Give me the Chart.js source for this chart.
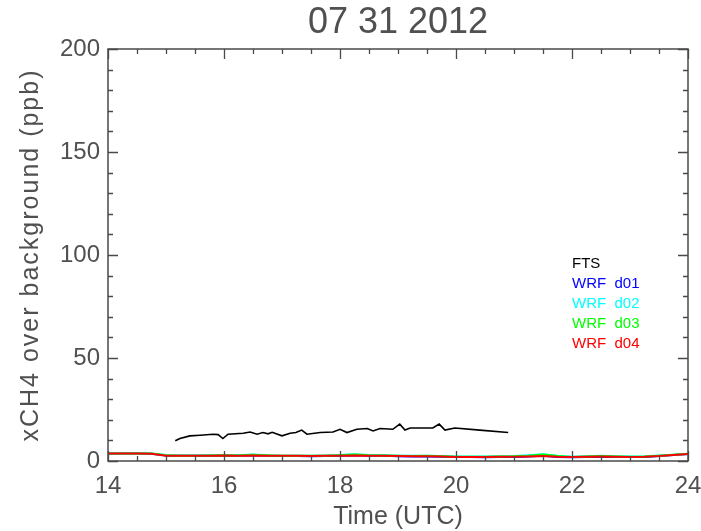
<!DOCTYPE html>
<html>
<head>
<meta charset="utf-8">
<script src="https://cdn.jsdelivr.net/npm/chart.js@4.4.1/dist/chart.umd.min.js"></script>
<style>
  html, body { margin: 0; padding: 0; background: #fff; }
  #wrap { width: 701px; height: 531px; }
</style>
</head>
<body>
<div id="wrap"><canvas id="chart-1"></canvas></div>
<script>
const chart1 = document.querySelector('#chart-1');

const titleText = '07 31 2012';
const xTitle = 'Time (UTC)';
const yTitle = 'xCH4 over background (ppb)';

const xTicks = [14, 16, 18, 20, 22, 24];
const yTicks = [0, 50, 100, 150, 200];

// FTS retrievals
const ftsTimes = [15.16, 15.24, 15.41, 15.59, 15.81, 15.90, 15.98, 16.07, 16.33, 16.45,
  16.57, 16.67, 16.76, 16.83, 17.00, 17.14, 17.24, 17.34, 17.43, 17.66,
  17.88, 18.00, 18.12, 18.29, 18.47, 18.57, 18.69, 18.91, 19.03, 19.12,
  19.21, 19.60, 19.71, 19.81, 19.98, 20.41, 20.90];
const ftsValues = [9.8, 10.9, 12.2, 12.5, 13.0, 12.8, 10.9, 13.0, 13.5, 14.1,
  13.0, 13.8, 13.2, 13.9, 12.2, 13.5, 13.8, 15.0, 13.0, 13.8,
  14.1, 15.4, 13.8, 15.4, 15.8, 14.6, 15.8, 15.4, 17.9, 15.0,
  16.0, 16.0, 17.9, 15.0, 16.0, 15.0, 13.8];

// WRF model output, 15 min
const modelTimes = [14, 14.25, 14.5, 14.75, 15, 15.25, 15.5, 15.75, 16, 16.25,
  16.5, 16.75, 17, 17.25, 17.5, 17.75, 18, 18.25, 18.5, 18.75,
  19, 19.25, 19.5, 19.75, 20, 20.25, 20.5, 20.75, 21, 21.25,
  21.5, 21.75, 22, 22.25, 22.5, 22.75, 23, 23.25, 23.5, 23.75, 24];
const wrfD01 = [3.5, 3.6, 3.6, 3.5, 2.7, 2.5, 2.5, 2.6, 2.6, 2.5,
  2.8, 2.5, 2.4, 2.4, 2.3, 2.4, 2.5, 2.8, 2.6, 2.5,
  2.3, 2.2, 2.2, 2.1, 1.9, 1.9, 1.8, 1.9, 2.0, 2.2,
  2.6, 2.0, 1.8, 2.0, 2.1, 2.0, 1.9, 2.0, 2.4, 2.9, 3.4];
const wrfD02 = [3.6, 3.7, 3.7, 3.6, 2.9, 2.7, 2.7, 2.8, 2.9, 2.8,
  3.2, 2.8, 2.6, 2.6, 2.6, 2.7, 2.9, 3.3, 2.9, 2.8,
  2.6, 2.5, 2.6, 2.4, 2.2, 2.2, 2.2, 2.3, 2.4, 2.8,
  3.3, 2.5, 2.1, 2.3, 2.5, 2.3, 2.2, 2.3, 2.7, 3.0, 3.4];
const wrfD03 = [3.7, 3.7, 3.7, 3.6, 2.8, 2.6, 2.6, 2.7, 2.8, 2.7,
  3.0, 2.7, 2.5, 2.6, 2.5, 2.6, 2.8, 3.1, 2.8, 2.7,
  2.5, 2.4, 2.5, 2.3, 2.1, 2.1, 2.1, 2.2, 2.3, 2.6,
  3.1, 2.4, 2.0, 2.2, 2.4, 2.2, 2.1, 2.2, 2.6, 3.0, 3.5];
const wrfD04 = [3.6, 3.6, 3.6, 3.5, 2.6, 2.5, 2.5, 2.6, 2.7, 2.6,
  2.7, 2.6, 2.5, 2.5, 2.4, 2.5, 2.6, 2.7, 2.6, 2.6,
  2.4, 2.3, 2.3, 2.2, 2.0, 2.0, 2.0, 2.1, 2.1, 2.2,
  2.4, 2.1, 2.0, 2.1, 2.2, 2.1, 2.0, 2.1, 2.4, 2.9, 3.4];

const seriesNames = ['FTS', 'WRF  d01', 'WRF  d02', 'WRF  d03', 'WRF  d04'];
const seriesColours = ['#000000', '#0000ff', '#00ffff', '#00ff00', '#ff0000'];

const FONT = "'Liberation Sans', Arial, sans-serif";
const axisColour = '#4a4a4a';
const textColour = '#505050';

function toPoints(times, values) {
    return times.map((t, i) => ({ x: t, y: values[i] }));
}

// lower order is drawn on top: FTS first, then d04 over d03 over d02 over d01
function makeDataset(i, times, values, width, order) {
    return {
        label: seriesNames[i],
        data: toPoints(times, values),
        borderColor: seriesColours[i],
        backgroundColor: seriesColours[i],
        borderWidth: width,
        pointRadius: 0,
        tension: 0,
        fill: false,
        order: order
    };
}

function drawFrame(chart) {
    const ctx = chart.ctx;
    const a = chart.chartArea;
    const xs = chart.scales.x;
    const ys = chart.scales.y;
    ctx.save();
    ctx.strokeStyle = axisColour;
    ctx.lineWidth = 1.3;
    // half-hour minor ticks on x, 10 ppb minor ticks on y, all pointing inward
    for (let k = 0; k <= 20; k++) {
        const px = Math.round(xs.getPixelForValue(14 + k * 0.5)) + 0.5;
        const len = k % 4 === 0 ? 10 : 5;
        ctx.beginPath();
        ctx.moveTo(px, a.bottom);
        ctx.lineTo(px, a.bottom - len);
        ctx.moveTo(px, a.top);
        ctx.lineTo(px, a.top + len);
        ctx.stroke();
    }
    for (let k = 0; k <= 20; k++) {
        const py = Math.round(ys.getPixelForValue(k * 10)) + 0.5;
        const len = k % 5 === 0 ? 10 : 5;
        ctx.beginPath();
        ctx.moveTo(a.left, py);
        ctx.lineTo(a.left + len, py);
        ctx.moveTo(a.right, py);
        ctx.lineTo(a.right - len, py);
        ctx.stroke();
    }
    ctx.lineWidth = 1.5;
    ctx.strokeRect(a.left, a.top, a.right - a.left, a.bottom - a.top);
    ctx.restore();
}

// frame, ticks, titles and the in-plot legend
const idlStyle = {
    id: 'idlStyle',
    afterDraw(chart) {
        drawFrame(chart);

        const ctx = chart.ctx;
        const a = chart.chartArea;
        const cx = (a.left + a.right) / 2;
        ctx.save();
        ctx.fillStyle = textColour;
        ctx.textAlign = 'center';
        ctx.textBaseline = 'middle';
        ctx.font = '36px ' + FONT;
        ctx.fillText(titleText, cx, 23);
        ctx.font = '25px ' + FONT;
        ctx.fillText(xTitle, cx, 517);
        ctx.translate(31, (a.top + a.bottom) / 2);
        ctx.rotate(-Math.PI / 2);
        ctx.letterSpacing = '2px';
        ctx.fillText(yTitle, 0, 0);
        ctx.restore();

        ctx.save();
        ctx.font = '15px ' + FONT;
        ctx.textAlign = 'left';
        ctx.textBaseline = 'middle';
        chart.data.datasets.forEach((ds, i) => {
            ctx.fillStyle = ds.borderColor;
            ctx.fillText(ds.label, 572, 264 + i * 20);
        });
        ctx.restore();
    }
};

new Chart(chart1, {
    type: 'line',
    data: {
        datasets: [
            makeDataset(0, ftsTimes, ftsValues, 1.6, 0),
            makeDataset(1, modelTimes, wrfD01, 2, 4),
            makeDataset(2, modelTimes, wrfD02, 2, 3),
            makeDataset(3, modelTimes, wrfD03, 2, 2),
            makeDataset(4, modelTimes, wrfD04, 2, 1)
        ]
    },
    options: {
        responsive: true,
        maintainAspectRatio: false,
        animation: false,
        layout: { padding: { top: 49, right: 13, left: 0, bottom: 0 } },
        plugins: {
            legend: { display: false },
            title: { display: false },
            tooltip: { enabled: false }
        },
        scales: {
            x: {
                type: 'linear',
                min: 14,
                max: 24,
                afterBuildTicks: scale => { scale.ticks = xTicks.map(v => ({ value: v })); },
                afterFit: scale => { scale.height = 70; scale.paddingLeft = 0; scale.paddingRight = 0; },
                grid: { display: false, drawTicks: false },
                border: { display: false },
                ticks: {
                    color: textColour,
                    padding: 11,
                    maxRotation: 0,
                    font: { family: FONT, size: 24 }
                }
            },
            y: {
                type: 'linear',
                min: 0,
                max: 200,
                afterBuildTicks: scale => { scale.ticks = yTicks.map(v => ({ value: v })); },
                afterFit: scale => { scale.width = 108; scale.paddingTop = 0; scale.paddingBottom = 0; },
                grid: { display: false, drawTicks: false },
                border: { display: false },
                ticks: {
                    color: textColour,
                    padding: 8,
                    font: { family: FONT, size: 24 }
                }
            }
        }
    },
    plugins: [idlStyle]
});
</script>
</body>
</html>
